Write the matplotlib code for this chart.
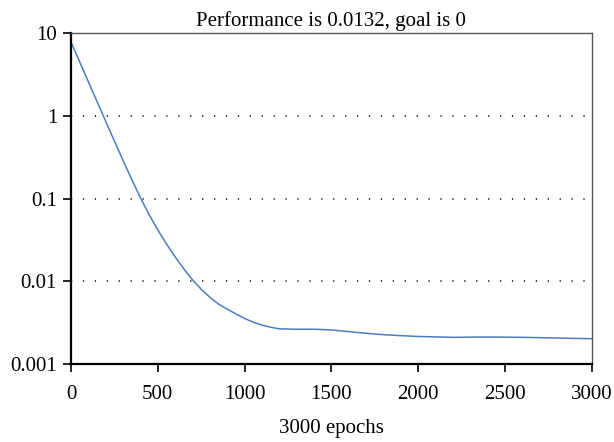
import matplotlib
matplotlib.use("Agg")
import matplotlib.pyplot as plt
import matplotlib.ticker as ticker

# training performance
epochs = [0, 50, 100, 150, 200, 250, 300, 350, 400, 450, 500, 550, 600, 650,
          700, 750, 800, 850, 900, 950, 1000, 1050, 1100, 1150, 1200, 1300,
          1400, 1500, 1600, 1700, 1800, 1900, 2000, 2200, 2400, 2600, 2800, 3000]
perf = [7.8, 4.49, 2.58, 1.49, 0.855, 0.495, 0.288, 0.17, 0.102, 0.0638, 0.0417,
        0.0282, 0.0197, 0.0141, 0.0104, 0.0080, 0.0064, 0.0053, 0.0046, 0.00403,
        0.00355, 0.0032, 0.00295, 0.00278, 0.00266, 0.00263, 0.00263, 0.00258,
        0.00246, 0.00235, 0.00226, 0.0022, 0.00215, 0.0021, 0.00212, 0.0021,
        0.00206, 0.00202]

y_ticks = [0.001, 0.01, 0.1, 1, 10]
y_labels = ["0.001", "0.01", "0.1", "1", "10"]
x_ticks = [0, 500, 1000, 1500, 2000, 2500, 3000]

plt.rcParams['font.family'] = ['Liberation Serif', 'DejaVu Serif']

fig = plt.figure(figsize=(6.14, 4.42), dpi=100)
ax = fig.add_axes([0.1156, 0.1765, 0.8484, 0.7488])

ax.plot(epochs, perf, color='#4a7cc0', lw=1.1)

ax.set_yscale('log')
ax.set_ylim(0.001, 10)
ax.set_xlim(0, 3000)
ax.set_yticks(y_ticks)
ax.set_yticklabels(y_labels)
ax.yaxis.set_minor_locator(ticker.NullLocator())
ax.set_xticks(x_ticks)

ax.yaxis.grid(True, which='major', color='black', linestyle=(0, (0.8, 7.0)), lw=1.1)

ax.tick_params(axis='both', which='major', direction='out', length=6, width=1.2,
               labelsize=15, pad=4)
ax.tick_params(axis='x', pad=9)

for side in ('left', 'bottom'):
    ax.spines[side].set_linewidth(1.6)
    ax.spines[side].set_color('black')
for side in ('top', 'right'):
    ax.spines[side].set_linewidth(1.0)
    ax.spines[side].set_color('#555555')

ax.set_title("Performance is 0.0132, goal is 0", fontsize=15, pad=5)
ax.set_xlabel("3000 epochs", fontsize=15, labelpad=11)

fig.savefig("out.png", dpi=100)
